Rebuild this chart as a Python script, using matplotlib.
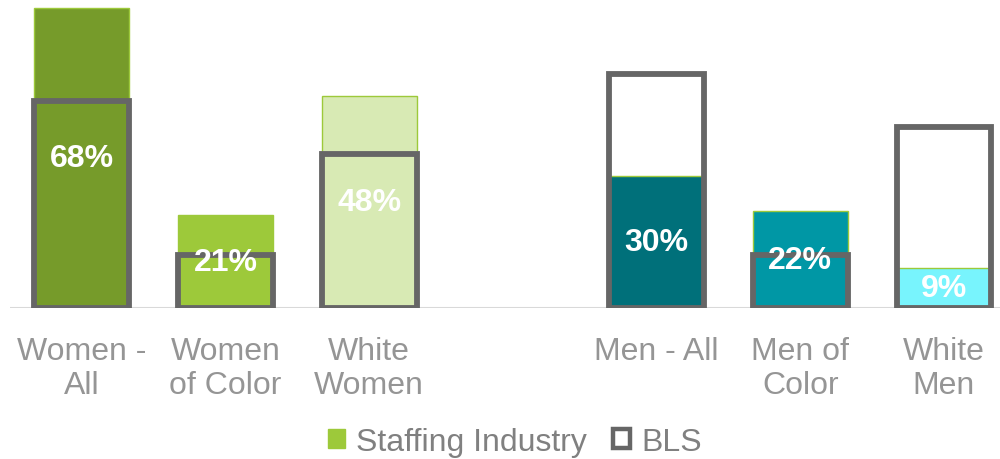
import matplotlib.pyplot as plt
from matplotlib.patches import Patch

plt.rcParams['font.family'] = ['Liberation Sans', 'DejaVu Sans']

# Share of workforce by group, staffing industry vs. BLS benchmark (%)
categories = ["Women -\nAll", "Women\nof Color", "White\nWomen",
              "Men - All", "Men of\nColor", "White\nMen"]
positions = [0, 1, 2, 4, 5, 6]
staffing = [68, 21, 48, 30, 22, 9]
bls = [47, 12, 35, 53, 12, 41]
bar_colors = ["#769B2A", "#9DC93A", "#D8EAB4", "#00707A", "#0097A5", "#78F4FD"]

fig = plt.figure(figsize=(10, 4.6), dpi=100)
ax = fig.add_axes([0.01, 0.328, 0.99, 0.672])

width = 0.66
ax.bar(positions, staffing, width=width, color=bar_colors,
       edgecolor="#9DC93A", linewidth=1, zorder=2)
ax.bar(positions, bls, width=width, facecolor="none",
       edgecolor="#666666", linewidth=4.2, zorder=3)

for x, v in zip(positions, staffing):
    ax.text(x, v / 2, f"{v}%", ha="center", va="center", color="white",
            fontsize=23, fontweight="bold", zorder=4)

ax.axhline(0, color="#D9D9D9", linewidth=1.5, zorder=1)

ax.set_xlim(-0.5, 6.39)
ax.set_ylim(0, 70)
ax.set_xticks(positions)
ax.set_xticklabels(categories, fontsize=23, color="#959595", linespacing=1.18)
ax.tick_params(axis="x", length=0, pad=20)
ax.set_yticks([])
for s in ax.spines.values():
    s.set_visible(False)

handles = [Patch(facecolor="#9DC93A", edgecolor="#9DC93A"),
           Patch(facecolor="white", edgecolor="#666666", linewidth=3.2)]
fig.legend(handles, ["Staffing Industry", "BLS"], loc="center",
           bbox_to_anchor=(0.515, 0.038), ncol=2, frameon=False,
           fontsize=23, labelcolor="#808080", handlelength=0.55,
           handleheight=0.55, handletextpad=0.35, columnspacing=0.8)

fig.savefig("out.png", dpi=100)
